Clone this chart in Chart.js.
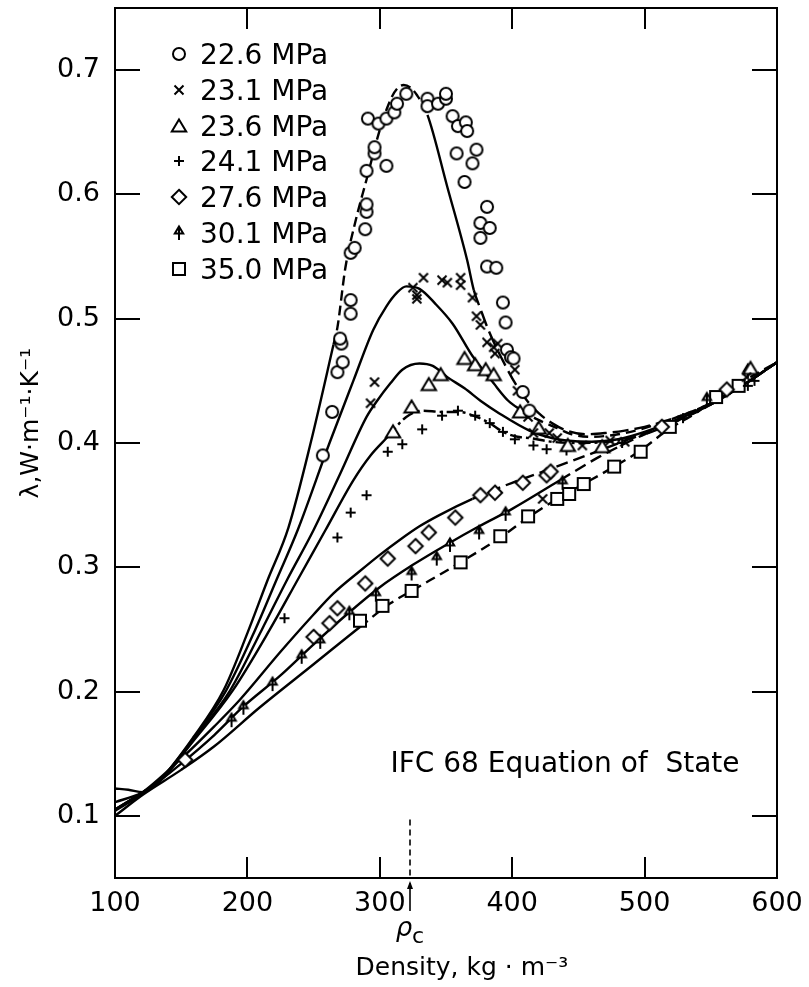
<!DOCTYPE html>
<html>
<head>
<meta charset="utf-8">
<script src="https://cdn.jsdelivr.net/npm/chart.js@4.4.1/dist/chart.umd.min.js"></script>
<style>
  html, body { margin: 0; padding: 0; background: #fff; }
  #wrap { width: 809px; height: 987px; }
</style>
</head>
<body>
<div id="wrap"><canvas id="chart" width="809" height="987"></canvas></div>
<script>
// thermal conductivity of water near the critical point
// density kg/m3 , lambda W/(m K)

const xTicks = [100, 200, 300, 400, 500, 600];
const yTicks = [0.1, 0.2, 0.3, 0.4, 0.5, 0.6, 0.7];
const pressureLabels = ['22.6 MPa', '23.1 MPa', '23.6 MPa', '24.1 MPa', '27.6 MPa', '30.1 MPa', '35.0 MPa'];
const rhoC = 323;

// measured points
const pts226 = [[257,0.390],[264,0.425],[268,0.457],[272,0.465],[271,0.480],[270,0.484],[278,0.504],[278,0.515],[278,0.553],[281,0.557],[289,0.572],[290,0.586],[290,0.592],[290,0.619],[305,0.623],[296,0.633],[296,0.638],[291,0.661],[299,0.657],[305,0.661],[311,0.666],[313,0.673],[320,0.681],[336,0.677],[336,0.671],[344,0.673],[350,0.677],[350,0.681],[355,0.663],[359,0.655],[365,0.658],[366,0.651],[373,0.636],[358,0.633],[370,0.625],[364,0.610],[381,0.590],[376,0.577],[383,0.573],[376,0.565],[381,0.542],[388,0.541],[393,0.513],[395,0.497],[396,0.475],[399,0.469],[401,0.468],[408,0.441],[413,0.426]];
const pts231 = [[296,0.449],[293,0.432],[333,0.533],[325,0.525],[328,0.516],[328,0.519],[347,0.531],[351,0.529],[361,0.533],[361,0.527],[370,0.517],[373,0.502],[376,0.495],[381,0.481],[386,0.477],[389,0.480],[387,0.472],[402,0.459],[404,0.442],[412,0.421],[416,0.408],[428,0.408],[434,0.404],[453,0.398],[474,0.402],[485,0.401],[423,0.355],[577,0.453]];
const pts236 = [[310,0.409],[324,0.429],[337,0.447],[346,0.455],[364,0.468],[372,0.463],[380,0.459],[386,0.455],[406,0.425],[420,0.412],[442,0.398],[468,0.397],[580,0.460]];
const pts241 = [[228,0.259],[268,0.324],[278,0.344],[290,0.358],[306,0.393],[317,0.399],[332,0.411],[347,0.422],[359,0.426],[372,0.422],[383,0.416],[393,0.409],[402,0.403],[416,0.398],[426,0.395],[441,0.394],[483,0.400],[529,0.420],[583,0.450],[578,0.446]];
const pts276 = [[153,0.145],[250,0.244],[262,0.255],[268,0.267],[289,0.287],[306,0.307],[327,0.317],[337,0.328],[357,0.340],[376,0.358],[387,0.360],[408,0.368],[426,0.374],[429,0.377],[513,0.413],[562,0.443]];
const pts301 = [[188,0.177],[197,0.187],[219,0.206],[241,0.228],[255,0.240],[277,0.263],[297,0.278],[324,0.295],[343,0.307],[353,0.318],[375,0.328],[395,0.343],[438,0.368],[547,0.435],[578,0.458]];
const pts350 = [[285,0.257],[302,0.269],[324,0.281],[361,0.304],[391,0.325],[412,0.341],[434,0.355],[443,0.359],[454,0.367],[477,0.381],[497,0.393],[519,0.413],[554,0.437],[571,0.446]];

// IFC 68 calculated curves
const curve226 = [[100,0.122],[110,0.121],[121,0.119],[134,0.129],[159,0.163],[182,0.201],[200,0.247],[215,0.289],[231,0.332],[248,0.401],[265,0.479],[268,0.493],[274,0.541],[282,0.580],[290,0.612],[300,0.652],[308,0.676],[313,0.685],[318,0.688],[323,0.686],[328,0.680],[336,0.664],[351,0.606],[366,0.547],[371,0.523],[376,0.508],[382,0.491],[395,0.462],[404,0.445],[412,0.433],[420,0.424],[430,0.416],[441,0.410],[455,0.407],[470,0.408],[485,0.410],[500,0.413],[525,0.421],[550,0.432],[575,0.447],[600,0.465]];
const curve231 = [[100,0.111],[121,0.119],[134,0.129],[159,0.162],[184,0.201],[206,0.250],[222,0.290],[238,0.330],[262,0.400],[280,0.450],[295,0.491],[305,0.510],[313,0.521],[320,0.526],[330,0.524],[342,0.512],[355,0.496],[370,0.470],[386,0.448],[397,0.434],[406,0.427],[419,0.419],[434,0.412],[445,0.407],[460,0.405],[480,0.407],[500,0.412],[525,0.421],[550,0.432],[575,0.447],[600,0.465]];
const curve236 = [[100,0.105],[121,0.119],[134,0.129],[159,0.161],[187,0.201],[211,0.250],[230,0.290],[250,0.330],[270,0.375],[290,0.421],[298,0.434],[308,0.448],[317,0.459],[330,0.464],[340,0.462],[351,0.453],[364,0.444],[376,0.434],[390,0.424],[413,0.410],[430,0.404],[441,0.402],[460,0.401],[480,0.403],[500,0.409],[525,0.419],[550,0.431],[575,0.447],[600,0.465]];
const curve241 = [[100,0.105],[121,0.119],[134,0.128],[159,0.160],[189,0.201],[217,0.250],[238,0.290],[259,0.330],[280,0.370],[293,0.390],[306,0.405],[320,0.421],[333,0.426],[346,0.425],[360,0.425],[373,0.421],[383,0.416],[393,0.409],[404,0.405],[413,0.404],[430,0.401],[451,0.400],[481,0.402],[500,0.407],[525,0.418],[550,0.431],[575,0.447],[600,0.465]];
const curve276 = [[100,0.105],[121,0.119],[150,0.146],[175,0.172],[194,0.193],[225,0.232],[250,0.262],[265,0.279],[285,0.297],[300,0.310],[315,0.322],[330,0.333],[345,0.342],[370,0.355],[400,0.368],[431,0.380],[466,0.394],[500,0.408],[525,0.419],[550,0.432],[575,0.447],[600,0.465]];
const curve301 = [[100,0.104],[121,0.118],[150,0.142],[175,0.165],[197,0.188],[225,0.213],[250,0.238],[275,0.262],[300,0.284],[325,0.302],[350,0.318],[375,0.333],[400,0.347],[436,0.370],[466,0.389],[500,0.407],[525,0.418],[550,0.431],[575,0.447],[600,0.465]];
const curve350 = [[100,0.100],[121,0.117],[150,0.137],[175,0.156],[209,0.187],[250,0.222],[285,0.252],[308,0.271],[324,0.281],[361,0.304],[391,0.324],[412,0.340],[434,0.355],[454,0.367],[477,0.381],[497,0.394],[518,0.411],[540,0.425],[554,0.436],[575,0.450],[600,0.465]];

const pointSets = [pts226, pts231, pts236, pts241, pts276, pts301, pts350];
const markerKinds = ['circle', 'cross', 'triangle', 'plus', 'diamond', 'arrow', 'square'];

// which density ranges of each curve are drawn dashed
const curveSets = [
  { data: curve226, dashes: [[265, 336, [10, 5]], [371, 700, [16, 6]]] },
  { data: curve231, dashes: [[400, 700, [10, 6]]] },
  { data: curve236, dashes: [] },
  { data: curve241, dashes: [[300, 700, [12, 4, 3, 4]]] },
  { data: curve276, dashes: [[370, 700, [12, 6]]] },
  { data: curve301, dashes: [[436, 700, [12, 6]]] },
  { data: curve350, dashes: [[285, 700, [10, 6]]] }
];

const toXY = arr => arr.map(p => ({ x: p[0], y: p[1] }));

function makeMarker(kind) {
  const c = document.createElement('canvas');
  c.width = 20; c.height = 20;
  const g = c.getContext('2d');
  const m = 10;
  g.strokeStyle = '#000';
  g.fillStyle = '#fff';
  g.lineWidth = 2;
  g.beginPath();
  if (kind === 'circle') {
    g.arc(m, m, 6, 0, 2 * Math.PI);
    g.fill(); g.stroke();
  } else if (kind === 'cross') {
    g.moveTo(m - 4.5, m - 4.5); g.lineTo(m + 4.5, m + 4.5);
    g.moveTo(m + 4.5, m - 4.5); g.lineTo(m - 4.5, m + 4.5);
    g.stroke();
  } else if (kind === 'triangle') {
    g.moveTo(m, m - 6.5); g.lineTo(m + 7.2, m + 5.5); g.lineTo(m - 7.2, m + 5.5); g.closePath();
    g.fill(); g.stroke();
  } else if (kind === 'plus') {
    g.moveTo(m - 5, m); g.lineTo(m + 5, m);
    g.moveTo(m, m - 5); g.lineTo(m, m + 5);
    g.stroke();
  } else if (kind === 'diamond') {
    g.moveTo(m, m - 7.2); g.lineTo(m + 7.2, m); g.lineTo(m, m + 7.2); g.lineTo(m - 7.2, m); g.closePath();
    g.fill(); g.stroke();
  } else if (kind === 'arrow') {
    g.moveTo(m, m - 6.5); g.lineTo(m + 4.2, m + 0.5); g.lineTo(m - 4.2, m + 0.5); g.closePath();
    g.fill(); g.stroke();
    g.beginPath();
    g.moveTo(m, m - 6.5); g.lineTo(m, m + 7);
    g.stroke();
  } else if (kind === 'square') {
    g.rect(m - 6, m - 6, 12, 12);
    g.fill(); g.stroke();
  }
  return c;
}

const markers = markerKinds.map(makeMarker);

const datasets = [];
curveSets.forEach((cs, i) => {
  datasets.push({
    label: 'calc ' + pressureLabels[i],
    data: toXY(cs.data),
    showLine: true,
    borderColor: '#000',
    borderWidth: 2.4,
    pointRadius: 0,
    cubicInterpolationMode: 'monotone',
    order: 2,
    segment: {
      borderDash: ctx => {
        const x0 = ctx.p0.parsed.x;
        for (const d of cs.dashes) {
          if (x0 >= d[0] && x0 < d[1]) return d[2];
        }
        return undefined;
      }
    }
  });
});
pointSets.forEach((ps, i) => {
  datasets.push({
    label: pressureLabels[i],
    data: toXY(ps),
    showLine: false,
    pointStyle: markers[i],
    pointRadius: 7,
    order: 1
  });
});

const decor = {
  id: 'decor',
  afterDraw(chart) {
    const { ctx, chartArea: a, scales: { x, y } } = chart;
    ctx.save();
    ctx.strokeStyle = '#000';
    ctx.fillStyle = '#000';
    ctx.lineWidth = 2;
    ctx.setLineDash([]);
    ctx.strokeRect(a.left, a.top, a.right - a.left, a.bottom - a.top);

    // inward tick marks on all four sides
    ctx.beginPath();
    xTicks.forEach(v => {
      const px = Math.round(x.getPixelForValue(v));
      ctx.moveTo(px, a.bottom); ctx.lineTo(px, a.bottom - 21);
      ctx.moveTo(px, a.top); ctx.lineTo(px, a.top + 21);
    });
    yTicks.forEach(v => {
      const py = Math.round(y.getPixelForValue(v));
      ctx.moveTo(a.left, py); ctx.lineTo(a.left + 25, py);
      ctx.moveTo(a.right, py); ctx.lineTo(a.right - 25, py);
    });
    ctx.stroke();

    // legend inside the plot
    ctx.font = '28px "DejaVu Sans"';
    ctx.textAlign = 'left';
    ctx.textBaseline = 'alphabetic';
    pressureLabels.forEach((t, i) => {
      const cy = a.top + 46 + i * 35.8;
      ctx.drawImage(markers[i], a.left + 64 - 10, Math.round(cy) - 10);
      ctx.fillText(t, a.left + 85, cy + 10);
    });

    // equation of state note
    ctx.font = '28px "DejaVu Sans"';
    ctx.textBaseline = 'middle';
    ctx.fillText('IFC 68 Equation of  State', x.getPixelForValue(308), y.getPixelForValue(0.141));

    // critical density marker
    const rx = Math.round(x.getPixelForValue(rhoC));
    ctx.lineWidth = 1.6;
    ctx.setLineDash([6, 4]);
    ctx.beginPath();
    ctx.moveTo(rx, y.getPixelForValue(0.097));
    ctx.lineTo(rx, a.bottom);
    ctx.stroke();
    ctx.setLineDash([]);
    ctx.beginPath();
    ctx.moveTo(rx, a.bottom + 33);
    ctx.lineTo(rx, a.bottom + 5);
    ctx.stroke();
    ctx.beginPath();
    ctx.moveTo(rx, a.bottom + 3);
    ctx.lineTo(rx + 3, a.bottom + 11);
    ctx.lineTo(rx - 3, a.bottom + 11);
    ctx.closePath();
    ctx.fill();
    ctx.font = 'italic 26px "DejaVu Sans"';
    ctx.textAlign = 'center';
    ctx.textBaseline = 'alphabetic';
    ctx.fillText('ρ', rx - 6, a.bottom + 58);
    ctx.font = '22px "DejaVu Sans"';
    ctx.fillText('c', rx + 8, a.bottom + 65);
    ctx.restore();
  }
};

Chart.defaults.font.family = '"DejaVu Sans"';
Chart.defaults.color = '#000';

new Chart(document.getElementById('chart'), {
  type: 'scatter',
  data: { datasets },
  options: {
    responsive: false,
    animation: false,
    layout: { padding: { top: 8, right: 32, bottom: 0, left: 0 } },
    plugins: {
      legend: { display: false },
      tooltip: { enabled: false }
    },
    scales: {
      x: {
        type: 'linear',
        min: 100,
        max: 600,
        grid: { display: false, drawTicks: false },
        border: { display: false },
        afterBuildTicks: s => { s.ticks = xTicks.map(v => ({ value: v })); },
        ticks: {
          padding: 10,
          font: { size: 27 },
          callback: v => String(v)
        },
        title: {
          display: true,
          text: '    Density, kg · m⁻³',
          font: { size: 25 },
          padding: { top: 0, bottom: 4 }
        },
        afterFit: s => { s.height = 109; s.paddingLeft = 0; s.paddingRight = 0; }
      },
      y: {
        type: 'linear',
        min: 0.05,
        max: 0.75,
        grid: { display: false, drawTicks: false },
        border: { display: false },
        afterBuildTicks: s => { s.ticks = yTicks.map(v => ({ value: v })); },
        ticks: {
          padding: 15,
          font: { size: 27 },
          callback: v => v.toFixed(1)
        },
        title: {
          display: true,
          text: '     λ,W·m⁻¹·K⁻¹',
          font: { size: 25 },
          padding: { top: 16, bottom: 0 }
        },
        afterFit: s => { s.width = 115; s.paddingTop = 0; s.paddingBottom = 0; }
      }
    }
  },
  plugins: [decor]
});
</script>
</body>
</html>
